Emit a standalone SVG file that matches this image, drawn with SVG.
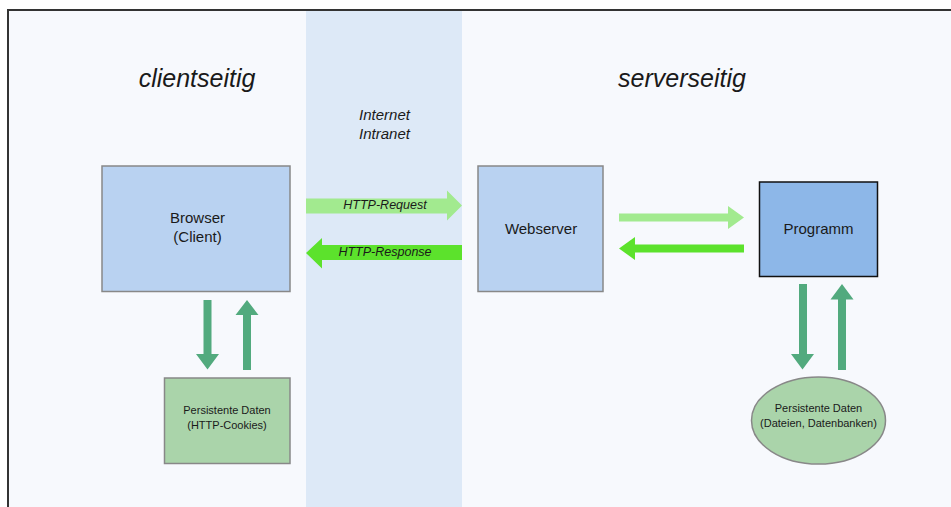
<svg xmlns="http://www.w3.org/2000/svg" width="951" height="507" viewBox="0 0 951 507">
  <style>
    text { font-family: "Liberation Sans", Arial, sans-serif; fill: #1a1a1a; }
    .title { font-size: 25px; font-style: italic; text-anchor: middle; }
    .zone { font-size: 15px; font-style: italic; text-anchor: middle; }
    .label { font-size: 15px; text-anchor: middle; }
    .msg { font-size: 12.5px; font-style: italic; text-anchor: middle; }
    .small { font-size: 11px; text-anchor: middle; }
    .box { fill: #b9d2f1; stroke: #888888; stroke-width: 1.5; }
    .store { fill: #aad4aa; stroke: #888888; stroke-width: 1.5; }
    .io { fill: #52aa7e; }
    .req { fill: #a2ea8f; }
    .resp { fill: #5ce22c; }
  </style>

  <!-- background, frame and network band -->
  <rect x="0" y="0" width="951" height="507" fill="#ffffff"/>
  <rect x="8" y="10" width="950" height="510" fill="#f7f9fd" stroke="#333333" stroke-width="2"/>
  <rect x="306" y="11" width="156" height="496" fill="#dde9f7"/>

  <!-- zone titles -->
  <text class="title" x="197" y="87">clientseitig</text>
  <text class="title" x="682" y="87">serverseitig</text>
  <text class="zone" x="384.5" y="120">Internet</text>
  <text class="zone" x="384.5" y="138.5">Intranet</text>

  <!-- connectors -->
  <g id="connectors">
    <!-- HTTP request / response -->
    <polygon class="req" points="306,198.5 447,198.5 447,190.5 462,205.5 447,220.5 447,213.5 306,213.5"/>
    <text class="msg" x="385" y="208.5">HTTP-Request</text>
    <polygon class="resp" points="462,245 322,245 322,238 306,253 322,268.5 322,260 462,260"/>
    <text class="msg" x="385" y="255.5">HTTP-Response</text>

    <!-- webserver <-> program -->
    <polygon class="req" points="619,213.5 728,213.5 728,206 744,217.5 728,229 728,221.5 619,221.5"/>
    <polygon class="resp" points="744,244.5 635,244.5 635,237 619,248.5 635,260 635,252.5 744,252.5"/>

    <!-- browser <-> cookies -->
    <polygon class="io" points="203.5,300 211.5,300 211.5,354 219,354 207.5,369.5 196,354 203.5,354"/>
    <polygon class="io" points="243,370 251,370 251,315 258.5,315 247,300 235.5,315 243,315"/>

    <!-- program <-> storage -->
    <polygon class="io" points="799,284 807,284 807,354 814,354 802.5,369.5 791,354 799,354"/>
    <polygon class="io" points="838,370 846,370 846,299.5 853.5,299.5 842,284 830.5,299.5 838,299.5"/>
  </g>

  <!-- nodes -->
  <g id="browser">
    <rect class="box" x="102" y="166" width="188" height="125.5"/>
    <text class="label" x="197.5" y="223">Browser</text>
    <text class="label" x="197.5" y="242">(Client)</text>
  </g>

  <g id="webserver">
    <rect class="box" x="478" y="166" width="125" height="125.5"/>
    <text class="label" x="541" y="233.5">Webserver</text>
  </g>

  <g id="programm">
    <rect x="759.5" y="182" width="118" height="94.5" fill="#8db7e8" stroke="#111111" stroke-width="1.5"/>
    <text class="label" x="818.5" y="234">Programm</text>
  </g>

  <g id="cookies">
    <rect class="store" x="164.5" y="378" width="125.5" height="85.5"/>
    <text class="small" x="227" y="413.5">Persistente Daten</text>
    <text class="small" x="227" y="428.5">(HTTP-Cookies)</text>
  </g>

  <g id="datenbanken">
    <ellipse class="store" cx="818.5" cy="420.5" rx="67" ry="43.5"/>
    <text class="small" x="818.5" y="412">Persistente Daten</text>
    <text class="small" x="818.5" y="427">(Dateien, Datenbanken)</text>
  </g>
</svg>
